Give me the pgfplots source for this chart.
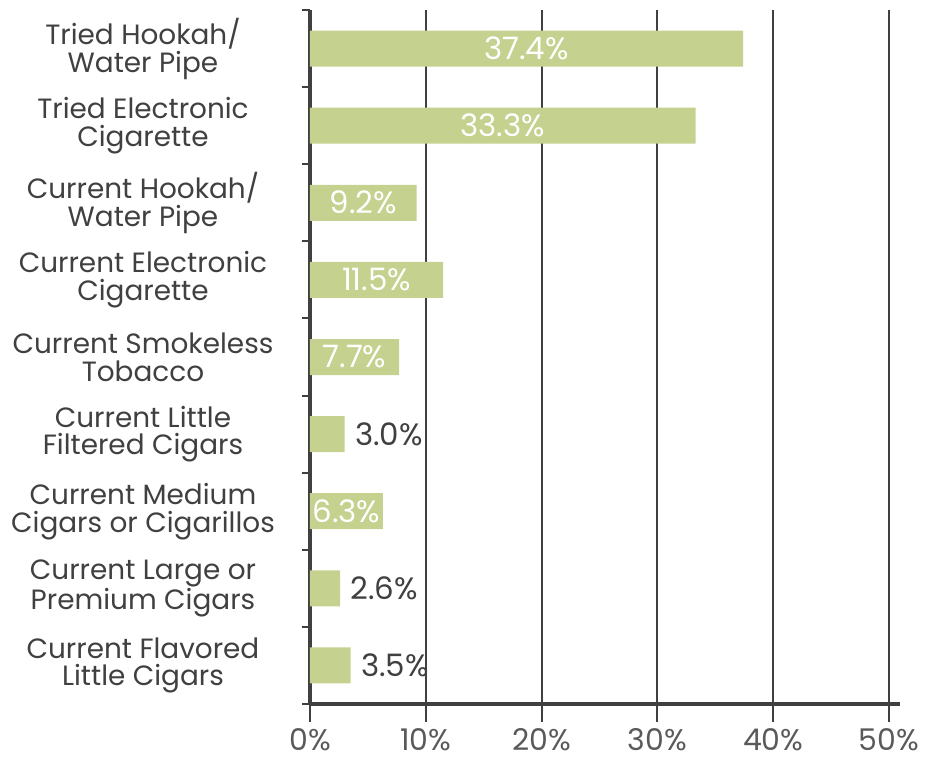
\documentclass[border=0pt]{standalone}
\usepackage{fontspec}
\setmainfont{Poppins}
\usepackage{pgfplots}
\pgfplotsset{compat=1.18}
\definecolor{bargreen}{HTML}{C5D18F}
\definecolor{axgray}{HTML}{404040}
\definecolor{ticklab}{HTML}{5A5A5A}
\begin{document}
\begin{tikzpicture}
\begin{axis}[
  name=ax,
  scale only axis, width=590bp, height=694bp,
  xmin=0, xmax=50.95, ymin=-0.5, ymax=8.5, y dir=reverse,
  xbar, bar shift=0pt, bar width=36bp,
  axis x line*=bottom, axis y line*=left,
  axis line style={axgray, line width=4bp, -},
  xtick={0,10,...,50}, xticklabels={0\%,10\%,20\%,30\%,40\%,50\%},
  xmajorgrids, major grid style={axgray, line width=2bp},
  tick align=outside,
  major tick length=18bp, minor tick length=8bp,
  major x tick style={axgray, line width=2bp},
  major y tick style={draw=none},
  minor y tick style={axgray, line width=2bp},
  ytick={0,...,8},
  minor ytick={-0.5,0.5,...,8.5},
  yticklabels={{Tried Hookah/\\Water Pipe},{Tried Electronic\\Cigarette},{Current Hookah/\\Water Pipe},{Current Electronic\\Cigarette},{Current Smokeless\\Tobacco},{Current Little\\Filtered Cigars},{Current Medium\\Cigars or Cigarillos},{Current Large or\\Premium Cigars},{Current Flavored\\Little Cigars}},
  yticklabel style={font=\fontsize{28}{28}\selectfont, text=axgray, align=center, anchor=center, xshift=-149bp},
  xticklabel style={font=\fontsize{30}{30}\selectfont, text=ticklab, inner sep=0pt, yshift=-6bp},
  /pgf/number format/assume math mode=true,
  nodes near coords={\pgfmathprintnumber[fixed,precision=1,fixed zerofill]{\pgfplotspointmeta}\%},
  point meta=x,
  every node near coord/.append style={font=\fontsize{31}{30}\selectfont},
]
\addplot[fill=bargreen, draw=none, mark=none, nodes near coords=\empty] coordinates {(37.4,0) (33.3,1) (9.2,2) (11.5,3) (7.7,4) (3.0,5) (6.3,6) (2.6,7) (3.5,8)};
\addplot[draw=none, fill=none, mark=none, visualization depends on={x \as \rawx},
  every node near coord/.append style={anchor=center, text=white, shift={(axis direction cs:-\rawx/2,0)}}]
  coordinates {(37.4,0) (33.3,1) (9.2,2) (11.5,3) (7.7,4) (6.3,6)};
\addplot[draw=none, fill=none, mark=none,
  every node near coord/.append style={anchor=west, text=axgray, xshift=7bp}]
  coordinates {(3.0,5) (2.6,7) (3.5,8)};
\end{axis}
\pgfresetboundingbox
\path ([xshift=-310bp,yshift=-59bp]ax.south west) rectangle ([xshift=25bp,yshift=10bp]ax.north east);
\end{tikzpicture}
\end{document}
